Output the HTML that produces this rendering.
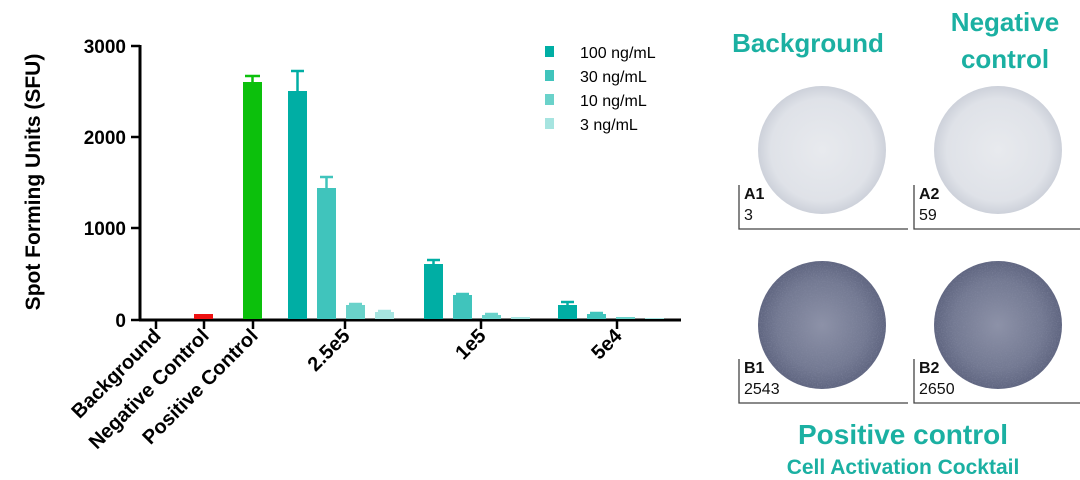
<!DOCTYPE html>
<html><head><meta charset="utf-8"><style>
html,body{margin:0;padding:0;background:#fff;}
svg{display:block;font-family:"Liberation Sans",sans-serif;}
</style></head><body>
<svg width="1080" height="480" viewBox="0 0 1080 480" xmlns="http://www.w3.org/2000/svg">
<defs>
<radialGradient id="lg" cx="50%" cy="50%" r="50%">
<stop offset="0" stop-color="#e8eaee"/><stop offset="0.8" stop-color="#dfe2e8"/><stop offset="1" stop-color="#cdd1da"/>
</radialGradient>
<radialGradient id="dg" cx="50%" cy="50%" r="50%">
<stop offset="0" stop-color="#8d92a8"/><stop offset="0.7" stop-color="#737992"/><stop offset="1" stop-color="#5f6580"/>
</radialGradient>
<filter id="noise" x="0" y="0" width="100%" height="100%"><feTurbulence type="fractalNoise" baseFrequency="0.8" numOctaves="2" seed="3"/><feColorMatrix values="0 0 0 0 0.25  0 0 0 0 0.27  0 0 0 0 0.38  0 0 0 -2 1.1"/><feComposite in2="SourceGraphic" operator="in"/></filter>
</defs>
<!-- axes -->
<g stroke="#000" stroke-width="3" fill="none">
<line x1="140" y1="45" x2="140" y2="320"/>
<line x1="139" y1="320" x2="681" y2="320"/>
</g>
<g stroke="#000" stroke-width="2.5">
<line x1="131" y1="46" x2="140" y2="46"/>
<line x1="131" y1="137" x2="140" y2="137"/>
<line x1="131" y1="228" x2="140" y2="228"/>
<line x1="131" y1="320" x2="140" y2="320"/>
<line x1="156" y1="320" x2="156" y2="329"/>
<line x1="204" y1="320" x2="204" y2="329"/>
<line x1="253" y1="320" x2="253" y2="329"/>
<line x1="345" y1="320" x2="345" y2="329"/>
<line x1="481" y1="320" x2="481" y2="329"/>
<line x1="617" y1="320" x2="617" y2="329"/>
</g>
<g font-size="19" font-weight="bold" text-anchor="end">
<text x="126" y="53">3000</text>
<text x="126" y="144">2000</text>
<text x="126" y="235">1000</text>
<text x="126" y="327">0</text>
</g>
<text transform="translate(40,182) rotate(-90)" font-size="21" font-weight="bold" text-anchor="middle">Spot Forming Units (SFU)</text>
<g font-size="20" font-weight="bold" text-anchor="end">
<text transform="translate(162,337) rotate(-45)">Background</text>
<text transform="translate(210,337) rotate(-45)">Negative Control</text>
<text transform="translate(259,337) rotate(-45)">Positive Control</text>
<text transform="translate(351,337) rotate(-45)">2.5e5</text>
<text transform="translate(487,337) rotate(-45)">1e5</text>
<text transform="translate(623,337) rotate(-45)">5e4</text>
</g>
<!-- bars -->
<rect x="194" y="314" width="19" height="5" fill="#ee1111"/>
<rect x="243" y="82" width="19" height="237" fill="#0cc00c"/>
<g stroke="#0cc00c" stroke-width="2.5"><line x1="252.5" y1="82" x2="252.5" y2="76"/><line x1="245" y1="76" x2="260" y2="76"/></g>
<g>
<rect x="288" y="91" width="19" height="228" fill="#00aea4"/>
<rect x="317" y="188" width="19" height="131" fill="#40c4bc"/>
<rect x="346" y="305" width="19" height="14" fill="#6ad2ca"/>
<rect x="375" y="312" width="19" height="7" fill="#a6e4e0"/>
<rect x="424" y="264" width="19" height="55" fill="#00aea4"/>
<rect x="453" y="295" width="19" height="24" fill="#40c4bc"/>
<rect x="482" y="315" width="19" height="4" fill="#6ad2ca"/>
<rect x="511" y="317" width="19" height="2" fill="#a6e4e0"/>
<rect x="558" y="305" width="19" height="14" fill="#00aea4"/>
<rect x="587" y="314" width="19" height="5" fill="#40c4bc"/>
<rect x="616" y="317" width="19" height="2" fill="#6ad2ca"/>
<rect x="645" y="318" width="19" height="1" fill="#a6e4e0"/>
</g>
<g stroke-width="2.5">
<g stroke="#00aea4"><line x1="297.5" y1="91" x2="297.5" y2="71"/><line x1="291" y1="71" x2="304" y2="71"/>
<line x1="433.5" y1="264" x2="433.5" y2="260"/><line x1="427" y1="260" x2="440" y2="260"/>
<line x1="567.5" y1="305" x2="567.5" y2="302"/><line x1="561" y1="302" x2="574" y2="302"/></g>
<g stroke="#40c4bc"><line x1="326.5" y1="188" x2="326.5" y2="177"/><line x1="320" y1="177" x2="333" y2="177"/>
<line x1="456" y1="294" x2="469" y2="294"/><line x1="590" y1="313" x2="603" y2="313"/></g>
<g stroke="#6ad2ca"><line x1="349" y1="304" x2="362" y2="304"/><line x1="485" y1="314" x2="498" y2="314"/></g>
<g stroke="#a6e4e0"><line x1="378" y1="311" x2="391" y2="311"/></g>
</g>
<!-- legend -->
<rect x="545" y="46" width="9" height="11" fill="#00aea4"/>
<rect x="545" y="70" width="9" height="11" fill="#40c4bc"/>
<rect x="545" y="94" width="9" height="11" fill="#6ad2ca"/>
<rect x="545" y="118" width="9" height="11" fill="#a6e4e0"/>
<g font-size="16">
<text x="580" y="58">100 ng/mL</text>
<text x="580" y="82">30 ng/mL</text>
<text x="580" y="106">10 ng/mL</text>
<text x="580" y="130">3 ng/mL</text>
</g>
<!-- right panel -->
<g fill="#1bb0a2" font-weight="bold" text-anchor="middle">
<text x="808" y="52" font-size="26">Background</text>
<text x="1005" y="31" font-size="26">Negative</text>
<text x="1005" y="68" font-size="26">control</text>
<text x="903" y="444" font-size="28">Positive control</text>
<text x="903" y="474" font-size="21">Cell Activation Cocktail</text>
</g>
<circle cx="822" cy="150" r="64" fill="url(#lg)"/>
<circle cx="998" cy="150" r="64" fill="url(#lg)"/>
<circle cx="822" cy="325" r="64" fill="url(#dg)"/>
<circle cx="822" cy="325" r="64" fill="#fff" filter="url(#noise)" opacity="0.5"/>
<circle cx="998" cy="325" r="64" fill="url(#dg)"/>
<circle cx="998" cy="325" r="64" fill="#fff" filter="url(#noise)" opacity="0.5"/>
<g stroke="#444" stroke-width="1.3" fill="none">
<polyline points="739,185 739,229 908,229"/>
<polyline points="914,185 914,229 1080,229"/>
<polyline points="739,359 739,403 908,403"/>
<polyline points="914,359 914,403 1080,403"/>
</g>
<g font-size="16" fill="#111">
<text x="744" y="199" font-weight="bold">A1</text><text x="744" y="220">3</text>
<text x="919" y="199" font-weight="bold">A2</text><text x="919" y="220">59</text>
<text x="744" y="373" font-weight="bold">B1</text><text x="744" y="394">2543</text>
<text x="919" y="373" font-weight="bold">B2</text><text x="919" y="394">2650</text>
</g>
</svg>
</body></html>
